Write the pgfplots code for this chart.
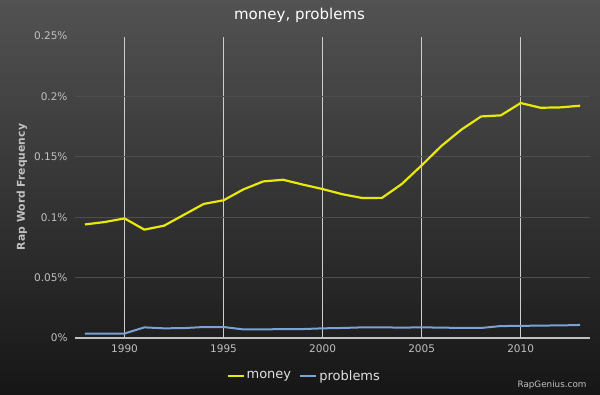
\documentclass[border=0pt]{standalone}
\usepackage{pgfplots}
\pgfplotsset{compat=1.18}
\usepackage{fontspec}
\setmainfont{DejaVu Sans}
\definecolor{bgtop}{RGB}{82,82,82}
\definecolor{bgbot}{RGB}{22,22,22}
\definecolor{moneyc}{RGB}{232,232,10}
\definecolor{probc}{RGB}{122,162,212}
\definecolor{tickc}{RGB}{192,192,192}
\definecolor{vgrid}{RGB}{205,205,205}
\definecolor{hgrid}{RGB}{78,78,78}
\begin{document}
\begin{tikzpicture}
\shade[top color=bgtop, bottom color=bgbot] (0,0) rectangle (600bp,395bp);
\begin{axis}[
  at={(75bp,57bp)}, anchor=south west,
  scale only axis, width=515bp, height=302bp,
  xmin=1987.5, xmax=2013.5, ymin=0, ymax=0.25,
  axis x line*=bottom, axis y line*=left,
  y axis line style={draw=none},
  x axis line style={draw=tickc, line width=1.5bp},
  xtick={1990,1995,2000,2005,2010},
  ytick={0,0.05,0.1,0.15,0.2,0.25},
  yticklabels={0\%,0.05\%,0.1\%,0.15\%,0.2\%,0.25\%},
  major tick length=0pt,
  xmajorgrids, ymajorgrids,
  x grid style={draw=vgrid, line width=0.9bp},
  y grid style={draw=hgrid, line width=0.8bp},
  /pgf/number format/assume math mode=true,
  /pgf/number format/set thousands separator={},
  tick label style={font=\fontsize{10.5bp}{12bp}\selectfont, text=tickc},
  xticklabel style={yshift=-3bp},
  yticklabel style={xshift=-4bp},
  ylabel={\bfseries Rap Word Frequency},
  ylabel style={at={(axis description cs:-0.103,0.5)}, anchor=center, font=\fontsize{10.8bp}{12bp}\selectfont, text=tickc},
  title={money, problems},
  title style={at={(axis description cs:0.436,1)}, anchor=center, yshift=15bp, font=\fontsize{15bp}{17bp}\selectfont, text=white},
  legend style={at={(axis description cs:0.445,0)}, anchor=center, yshift=-38bp, draw=none, fill=none, text=white!88!black, font=\fontsize{13bp}{15bp}\selectfont, legend columns=2, /tikz/every even column/.append style={column sep=6bp}},
  legend image code/.code={\draw[#1, line width=2.2bp] (0bp,0bp) -- (16bp,0bp);},
  clip=false,
]
\addplot[color=moneyc, line width=2.2bp, line join=round] coordinates {
(1988,0.094) (1989,0.096) (1990,0.099) (1991,0.0897) (1992,0.093)
(1993,0.102) (1994,0.111) (1995,0.114) (1996,0.123) (1997,0.1296)
(1998,0.131) (1999,0.127) (2000,0.1233) (2001,0.119) (2002,0.1159)
(2003,0.116) (2004,0.1275) (2005,0.1429) (2006,0.159) (2007,0.1724)
(2008,0.1834) (2009,0.1843) (2010,0.1945) (2011,0.1906) (2012,0.1909)
(2013,0.1923)};
\addlegendentry{money}
\addplot[color=probc, line width=2bp, line join=round] coordinates {
(1988,0.0036) (1989,0.0037) (1990,0.0037) (1991,0.0088) (1992,0.0080)
(1993,0.0082) (1994,0.0091) (1995,0.0091) (1996,0.0071) (1997,0.0071)
(1998,0.0074) (1999,0.0074) (2000,0.0080) (2001,0.0083) (2002,0.0088)
(2003,0.0088) (2004,0.0086) (2005,0.0088) (2006,0.0086) (2007,0.0083)
(2008,0.0083) (2009,0.0099) (2010,0.0100) (2011,0.0103) (2012,0.0104)
(2013,0.0108)};
\addlegendentry{problems}
\end{axis}
\node[anchor=east, text=tickc, font=\fontsize{8.8bp}{10bp}\selectfont] at (590bp,10bp) {RapGenius.com};
\end{tikzpicture}
\end{document}
